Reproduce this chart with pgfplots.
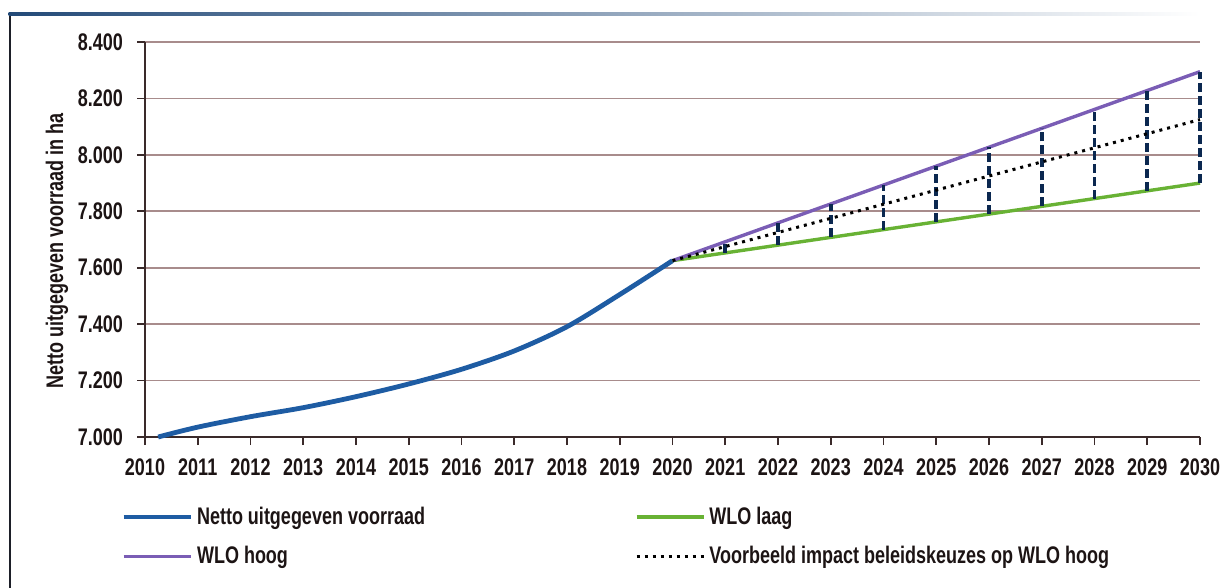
\documentclass[border=0pt]{standalone}
\usepackage{pgfplots}
\pgfplotsset{compat=1.18}
\usepackage{fontspec}
\setmainfont{Liberation Sans}[FakeStretch=0.75]
\definecolor{cblue}{HTML}{1E5CA3}
\definecolor{cpurple}{HTML}{7A5DB5}
\definecolor{cgreen}{HTML}{68B234}
\definecolor{cgrid}{HTML}{A88C8C}
\definecolor{caxis}{HTML}{3A2A2A}
\definecolor{cdash}{HTML}{0B2850}
\definecolor{ctext}{HTML}{1C1414}
\definecolor{cframe}{HTML}{234A78}
\newcommand{\lbf}{\fontsize{12bp}{14bp}\selectfont\bfseries}
\begin{document}
\begin{tikzpicture}
\path[use as bounding box] (0,0) rectangle (612bp,294bp);
\draw[ctext!80!cframe, line width=1.3bp] (5bp,0) -- (5bp,287.6bp);
\shade[left color=cframe, right color=white] (4.35bp,286.4bp) rectangle (600bp,287.6bp);
\begin{axis}[
  at={(72.5bp,75.5bp)}, anchor=south west,
  scale only axis, width=527.5bp, height=197.5bp,
  xmin=2010, xmax=2030, ymin=7000, ymax=8400,
  xtick={2010,2011,...,2030}, ytick={7000,7200,...,8400},
  axis x line*=bottom, axis y line*=left,
  axis line style={caxis, line width=1bp},
  tick align=outside, major tick length=4bp,
  tick style={caxis, line width=0.9bp},
  ymajorgrids, grid style={cgrid, line width=0.8bp},
  /pgf/number format/assume math mode=true,
  yticklabel style={/pgf/number format/1000 sep={.}, font=\lbf, text=ctext, xshift=-3.5bp},
  xticklabel style={/pgf/number format/1000 sep={}, font=\lbf, text=ctext, yshift=-3.5bp},
  ylabel={Netto uitgegeven voorraad in ha},
  ylabel style={at={(rel axis cs:-0.0834,0.47)}, anchor=center, font=\lbf, text=ctext},
  legend columns=2,
  legend cell align=left,
  legend style={at={(rel axis cs:-0.0229,-0.2522)}, anchor=west, draw=none, fill=none,
    inner sep=0pt, font=\lbf, text=ctext, row sep=5.5bp,
    /tikz/every even column/.append style={column sep=103bp}},
  legend image code/.code={\draw[#1] (0bp,0bp) -- (33.5bp,0bp);},
  clip=false,
]
\addplot[cblue, line width=2.4bp, smooth, tension=0.5] coordinates {
  (2010.25,7000) (2011,7035) (2012,7072) (2013,7104) (2014,7143) (2015,7188)
  (2016,7240) (2017,7305) (2018,7391) (2019,7505) (2020,7625)};
\addlegendentry{Netto uitgegeven voorraad}
\addplot[cgreen, line width=1.7bp] coordinates {(2020,7625) (2030,7900)};
\addlegendentry{WLO laag}
\addplot[cpurple, line width=1.7bp] coordinates {(2020,7625) (2030,8295)};
\addlegendentry{WLO hoog}
\addplot[cdash, line width=1.8bp, dash pattern=on 4.5bp off 2bp, forget plot] coordinates {(2021,7652.5) (2021,7692)};
\addplot[cdash, line width=1.8bp, dash pattern=on 4.5bp off 2bp, forget plot] coordinates {(2022,7680) (2022,7759)};
\addplot[cdash, line width=1.8bp, dash pattern=on 4.5bp off 2bp, forget plot] coordinates {(2023,7707.5) (2023,7826)};
\addplot[cdash, line width=1.8bp, dash pattern=on 4.5bp off 2bp, forget plot] coordinates {(2024,7735) (2024,7893)};
\addplot[cdash, line width=1.8bp, dash pattern=on 4.5bp off 2bp, forget plot] coordinates {(2025,7762.5) (2025,7960)};
\addplot[cdash, line width=1.8bp, dash pattern=on 4.5bp off 2bp, forget plot] coordinates {(2026,7790) (2026,8027)};
\addplot[cdash, line width=1.8bp, dash pattern=on 4.5bp off 2bp, forget plot] coordinates {(2027,7817.5) (2027,8094)};
\addplot[cdash, line width=1.8bp, dash pattern=on 4.5bp off 2bp, forget plot] coordinates {(2028,7845) (2028,8161)};
\addplot[cdash, line width=1.8bp, dash pattern=on 4.5bp off 2bp, forget plot] coordinates {(2029,7872.5) (2029,8228)};
\addplot[cdash, line width=1.8bp, dash pattern=on 4.5bp off 2bp, forget plot] coordinates {(2030,7900) (2030,8295)};
\addplot[black, line width=1.5bp, dash pattern=on 1.5bp off 2.5bp] coordinates {(2020,7625) (2030,8125)};
\addlegendentry{Voorbeeld impact beleidskeuzes op WLO hoog}
\end{axis}
\end{tikzpicture}
\end{document}
